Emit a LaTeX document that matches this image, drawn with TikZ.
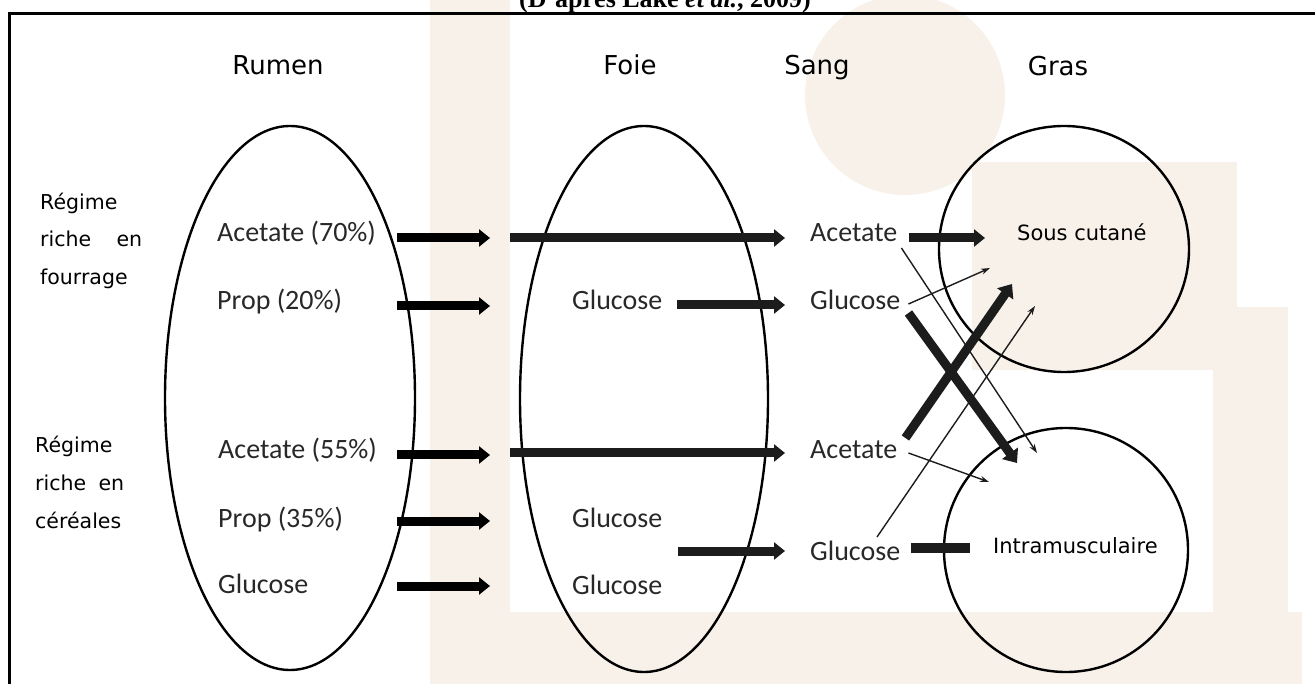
\documentclass[tikz,border=0pt]{standalone}
\usepackage{fontspec}
\setmainfont{DejaVu Sans}
\newfontfamily\calibfont{Carlito}
\newfontfamily\titlefont{Liberation Serif}
\usetikzlibrary{arrows.meta,calc,shapes.geometric}
\definecolor{wmbeige}{RGB}{248,241,233}
\definecolor{labgrey}{RGB}{40,40,40}
\definecolor{arrdark}{RGB}{28,28,28}
\tikzset{
  hdr/.style={font=\fontsize{26}{30}\selectfont,inner sep=0pt,anchor=base},
  diet/.style={font=\fontsize{20.5}{24}\selectfont,inner sep=0pt,anchor=base west},
  lbl/.style={font=\calibfont\fontsize{28}{32}\selectfont,text=labgrey,inner sep=0pt,
              anchor=base west},
  tissue/.style={font=\fontsize{21}{24}\selectfont,inner sep=0pt,anchor=base west},
  fat/.style={line width=9pt,arrdark,-{Triangle[length=11pt,width=17pt]}},
  bar/.style={line width=10pt,arrdark},
  cross/.style={line width=9pt,arrdark,-{Triangle[length=12pt,width=19pt]}},
  thin/.style={line width=1.4pt,arrdark,-{Stealth[length=9pt,width=6pt]}},
  organ/.style={draw,ellipse,line width=2.4pt,inner sep=0pt},
}

\begin{document}
\begin{tikzpicture}[x=1pt,y=-1pt]
\useasboundingbox (0,0) rectangle (1315,684);
\clip (0,0) rectangle (1315,684);

% watermark
\fill[wmbeige] (430,0) rectangle (510,684);
\fill[wmbeige] (510,612) rectangle (1302,684);
\fill[wmbeige] (1213,307) rectangle (1288,612);
\fill[wmbeige] (972,162) rectangle (1237,370);
\fill[wmbeige] (905,95) circle (100);

\node[font=\titlefont\bfseries\fontsize{26}{30}\selectfont,anchor=base,inner sep=0pt]
     (src) at (665,8) {(D’après Lake \textit{et al.}, 2009)};
\draw[line width=3pt] (9,684) -- (9,14) -- (1315,14);

\node[hdr] (hrumen) at (278,75) {Rumen};
\node[hdr] (hfoie)  at (630,75) {Foie};
\node[hdr] (hsang)  at (817,75) {Sang};
\node[hdr] (hgras)  at (1058,76) {Gras};

\node[diet] (fo1) at (40,210) {Régime};
\node[diet] (fo2) at (40,247) {\makebox[102pt][s]{riche en}};
\node[diet] (fo3) at (40,285) {fourrage};
\node[diet] (ce1) at (35,453) {Régime};
\node[diet] (ce2) at (35,490) {\makebox[89pt][s]{riche en}};
\node[diet] (ce3) at (35,528) {céréales};

\node[organ,minimum width=250pt,minimum height=544pt] (rumen) at (290,398) {};
\node[organ,minimum width=248pt,minimum height=546pt] (foie) at (644,399) {};
\node[organ,minimum width=250pt,minimum height=246pt] (souscut) at (1064,249) {};
\node[organ,minimum width=244pt,minimum height=244pt] (intramusc) at (1066,550) {};

\node[lbl] (ra1) at (217,242) {Acetate (70\%)};
\node[lbl] (rp1) at (217,310) {Prop (20\%)};
\node[lbl] (ra2) at (218,458) {Acetate (55\%)};
\node[lbl] (rp2) at (218,527) {Prop (35\%)};
\node[lbl] (rg)  at (218,593) {Glucose};

\node[lbl] (fg1) at (572,310) {Glucose};
\node[lbl] (fg2) at (572,527) {Glucose};
\node[lbl] (fg3) at (572,594) {Glucose};

\node[lbl] (sac1) at (810,242) {Acetate};
\node[lbl] (sg1)  at (810,310) {Glucose};
\node[lbl] (sac2) at (810,458) {Acetate};
\node[lbl] (sg2)  at (810,560) {Glucose};

\node[tissue] (sous)  at (1017,241) {Sous cutané};
\node[tissue] (intra) at (993,553) {Intramusculaire};

\foreach \n/\y in {1/238,2/306,3/455,4/521,5/586}{
  \coordinate (rs\n) at (397,\y);
  \coordinate (re\n) at (490,\y);
  \draw[fat,black] (rs\n) -- (re\n);
}

\coordinate (fs1) at (510,238);
\coordinate (fs2) at (510,453);
\draw[fat,shorten >=25pt] (fs1) -- (fs1 -| sac1.west);
\draw[fat,shorten >=25pt] (fs2) -- (fs2 -| sac2.west);
\draw[fat] ($(fg1.base east)+(15,-5)$) -- ($(sg1.base west)+(-25,-5)$);
\coordinate (fg23) at (678,551);
\draw[fat,shorten >=25pt] (fg23) -- (fg23 -| sg2.west);

\draw[fat] ($(sac1.base east)+(12,-4)$) -- ($(sous.base west)+(-32,-3)$);
\draw[bar] ($(sg2.base east)+(11,-12)$) -- ($(intra.base west)+(-23,-5)$);

\coordinate (t1) at (1037,453);
\coordinate (t2) at (990,268);
\coordinate (tA) at (1017,463);
\coordinate (tB) at (1012,284);
\coordinate (t4) at (1035,306);
\coordinate (t5) at (989,482);

\draw[thin]  ($(sac1.base east)+(4,6)$)  -- (t1);
\draw[thin]  ($(sg1.base east)+(8,-6)$)  -- (t2);
\draw[cross] ($(sg1.base east)+(8,3)$)   -- (tA);
\draw[cross] ($(sac2.base east)+(8,-20)$) -- (tB);
\draw[thin]  ($(sg2.base west)+(67,-23)$) -- (t4);
\draw[thin]  ($(sac2.base east)+(11,-5)$) -- (t5);

\end{tikzpicture}
\end{document}
